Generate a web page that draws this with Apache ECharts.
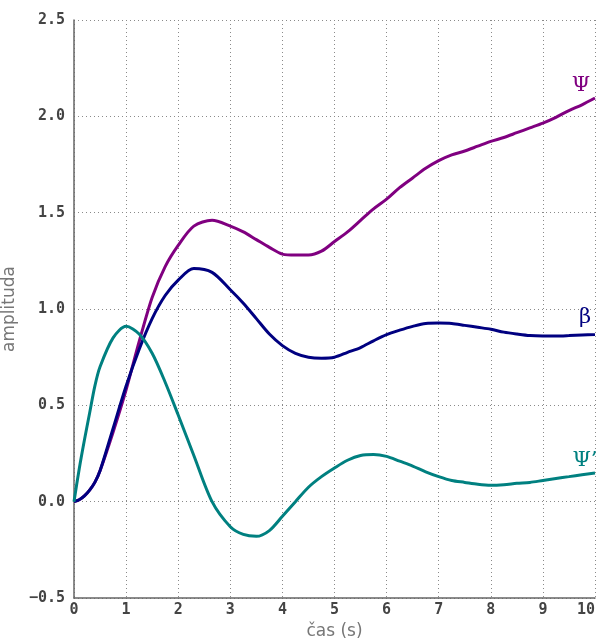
<!DOCTYPE html>
<html>
<head>
<meta charset="utf-8">
<script src="https://cdn.jsdelivr.net/npm/echarts@6/dist/echarts.min.js"></script>
<style>
  html, body { margin: 0; padding: 0; background: #ffffff; }
  #chart { width: 599px; height: 639px; }
</style>
</head>
<body>
<div id="chart"></div>
<script>
// Time samples (s)
const time = [0, 0.1, 0.2, 0.3, 0.4, 0.5, 0.75, 1.0, 1.25, 1.5, 1.75, 2.0, 2.3, 2.65, 3.0, 3.25, 3.5, 3.75, 4.0, 4.25, 4.5, 4.75, 5.0, 5.25, 5.5, 5.75, 6.0, 6.25, 6.5, 6.75, 7.0, 7.25, 7.5, 7.75, 8.0, 8.25, 8.5, 8.75, 9.0, 9.25, 9.5, 9.75, 10.0];

// Ψ response
const psi = [0, 0.01, 0.03, 0.06, 0.10, 0.16, 0.36, 0.58, 0.83, 1.06, 1.22, 1.33, 1.43, 1.46, 1.43, 1.40, 1.36, 1.32, 1.285, 1.28, 1.28, 1.30, 1.35, 1.40, 1.46, 1.52, 1.57, 1.63, 1.68, 1.73, 1.77, 1.80, 1.82, 1.845, 1.87, 1.89, 1.915, 1.94, 1.965, 1.995, 2.03, 2.06, 2.095];

// β response
const beta = [0, 0.01, 0.03, 0.06, 0.10, 0.16, 0.38, 0.60, 0.79, 0.95, 1.07, 1.15, 1.21, 1.19, 1.10, 1.03, 0.95, 0.87, 0.81, 0.77, 0.75, 0.745, 0.75, 0.775, 0.80, 0.835, 0.867, 0.89, 0.91, 0.925, 0.927, 0.925, 0.915, 0.905, 0.895, 0.88, 0.87, 0.862, 0.86, 0.86, 0.862, 0.865, 0.867];

// Ψ' response
const psiDot = [0, 0.17, 0.32, 0.46, 0.60, 0.70, 0.85, 0.91, 0.87, 0.77, 0.62, 0.45, 0.24, 0.0, -0.13, -0.17, -0.18, -0.15, -0.076, 0.0, 0.075, 0.13, 0.175, 0.215, 0.24, 0.245, 0.235, 0.21, 0.185, 0.155, 0.13, 0.11, 0.10, 0.09, 0.085, 0.088, 0.095, 0.10, 0.11, 0.12, 0.13, 0.14, 0.149];

// Axis ranges and tick steps
const xRange = [0, 10];
const yRange = [-0.5, 2.5];
const xStep = 1;
const yStep = 0.5;

const pairs = (vals) => time.map((t, i) => [t, vals[i]]);

const chart = echarts.init(document.getElementById('chart'), null, { renderer: 'canvas' });

const gridDots = { show: true, lineStyle: { color: '#8a8a8a', width: 1, type: [1, 3] } };
const tickFont = { fontFamily: 'DejaVu Sans Mono', fontWeight: 'bold', fontSize: 15, color: '#444444' };

function curve(name, vals, color, label, offset) {
  const last = vals.length - 1;
  return {
    name: name,
    type: 'line',
    data: pairs(vals),
    showSymbol: false,
    smooth: 0.3,
    lineStyle: { color: color, width: 3 },
    itemStyle: { color: color },
    markPoint: {
      symbol: 'circle',
      symbolSize: 0,
      silent: true,
      data: [{ coord: [time[last], vals[last]] }],
      label: {
        show: true,
        formatter: label,
        position: 'inside',
        offset: offset,
        color: color,
        fontFamily: 'DejaVu Serif',
        fontSize: 21
      }
    },
    z: 3
  };
}

chart.setOption({
  animation: false,
  backgroundColor: '#ffffff',
  grid: { left: 74, right: 4, top: 20, bottom: 41, containLabel: false, outerBoundsMode: 'none' },
  xAxis: {
    type: 'value',
    min: xRange[0],
    max: xRange[1],
    interval: xStep,
    name: 'čas (s)',
    nameLocation: 'middle',
    nameGap: 22,
    nameTextStyle: { fontFamily: 'DejaVu Sans', fontSize: 17, color: '#777777' },
    axisLine: { show: true, onZero: false, lineStyle: { color: '#666666', width: 1.5 } },
    axisTick: { show: false },
    axisLabel: Object.assign({ margin: 5, alignMaxLabel: 'right' }, tickFont),
    splitLine: gridDots
  },
  yAxis: {
    type: 'value',
    min: yRange[0],
    max: yRange[1],
    interval: yStep,
    name: 'amplituda',
    nameLocation: 'middle',
    nameGap: 54,
    nameTextStyle: { fontFamily: 'DejaVu Sans', fontSize: 17, color: '#777777' },
    axisLine: { show: true, onZero: false, lineStyle: { color: '#666666', width: 1.5 } },
    axisTick: { show: false },
    axisLabel: Object.assign({ margin: 9, formatter: (v) => v.toFixed(1).replace('-', '\u2212') }, tickFont),
    splitLine: gridDots
  },
  series: [
    curve('Ψ', psi, '#800080', 'Ψ', [-14, -12]),
    curve('β', beta, '#000080', 'β', [-10, -17]),
    curve("Ψ'", psiDot, '#008080', 'Ψ\u2019', [-10, -12])
  ]
});
</script>
</body>
</html>
